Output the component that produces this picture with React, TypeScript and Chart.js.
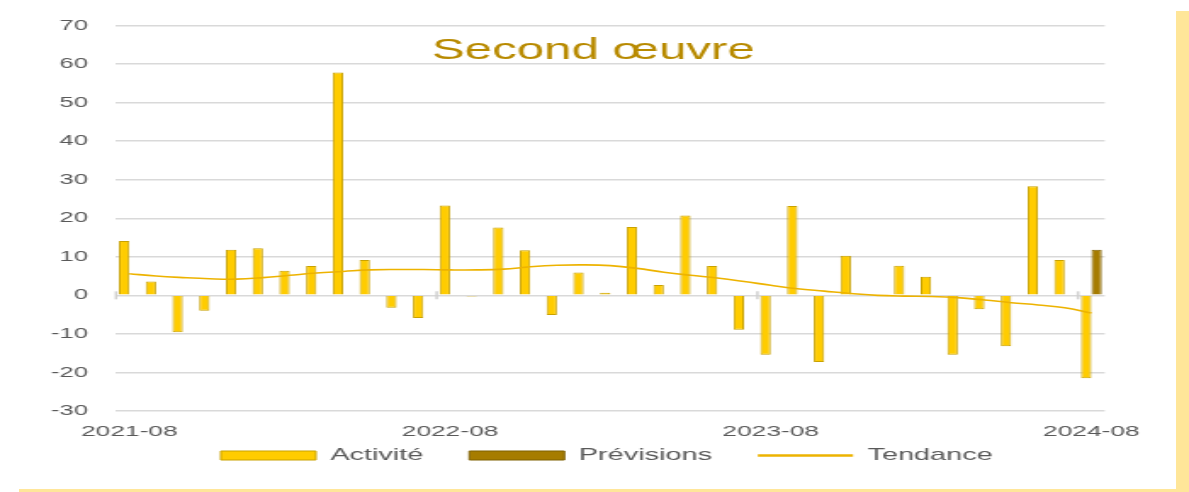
import React, { useEffect, useRef } from "react";
import { Chart, registerables } from "chart.js";

Chart.register(...registerables);

const TITLE = "Second œuvre";

const months = [
  "2021-08", "2021-09", "2021-10", "2021-11", "2021-12",
  "2022-01", "2022-02", "2022-03", "2022-04", "2022-05", "2022-06", "2022-07",
  "2022-08", "2022-09", "2022-10", "2022-11", "2022-12",
  "2023-01", "2023-02", "2023-03", "2023-04", "2023-05", "2023-06", "2023-07",
  "2023-08", "2023-09", "2023-10", "2023-11", "2023-12",
  "2024-01", "2024-02", "2024-03", "2024-04", "2024-05", "2024-06", "2024-07",
  "2024-08",
];

const shownTickLabels = ["2021-08", "2022-08", "2023-08", "2024-08"];

const activite = [
  14.1, 3.6, -9.6, -4.0, 11.8, 12.2, 6.4, 7.6, 57.8, 9.2,
  -3.2, -5.9, 23.3, -0.3, 17.6, 11.7, -5.1, 5.9, 0.7, 17.7,
  2.7, 20.7, 7.6, -8.9, -15.4, 23.2, -17.3, 10.3, 0.2, 7.7,
  4.8, -15.4, -3.6, -13.2, 28.3, 9.2, -21.5,
];

const previsions = [
  null, null, null, null, null, null, null, null, null, null,
  null, null, null, null, null, null, null, null, null, null,
  null, null, null, null, null, null, null, null, null, null,
  null, null, null, null, null, null, 11.8,
];

const tendance = [
  5.6, 5.0, 4.6, 4.3, 4.2, 4.6, 5.2, 5.8, 6.2, 6.6,
  6.7, 6.7, 6.6, 6.6, 6.8, 7.4, 7.8, 7.9, 7.7, 7.0,
  6.0, 5.2, 4.5, 3.6, 2.6, 1.7, 1.1, 0.5, 0.0, -0.2,
  -0.3, -0.6, -1.2, -1.9, -2.5, -3.2, -4.6,
];

const yTicks = { min: -30, max: 70, step: 10 };

const FONT = '"Liberation Sans", Arial, sans-serif';
const TEXT_COLOR = "#595959";

// internal canvas size, stretched horizontally by CSS to the page width
const CANVAS_W = 700;
const CANVAS_H = 492;
const PAGE_W = 1189;

export default function App() {
  const ref = useRef<HTMLCanvasElement>(null);

  useEffect(() => {
    const canvas = ref.current;
    if (!canvas) return;

    const titlePlugin = {
      id: "titleInside",
      afterDraw(chart: any) {
        const { ctx, chartArea } = chart;
        ctx.save();
        ctx.font = `29px ${FONT}`;
        ctx.fillStyle = "#B88A00";
        ctx.textAlign = "center";
        ctx.textBaseline = "alphabetic";
        ctx.fillText(TITLE, chartArea.left + 281, chartArea.top + 33);
        ctx.restore();
      },
    };

    const axisMarks = {
      id: "axisMarks",
      beforeDatasetsDraw(chart: any) {
        const { ctx } = chart;
        const xs = chart.scales.x;
        const ys = chart.scales.y;
        const y0 = ys.getPixelForValue(0);
        const step = (xs.right - xs.left) / months.length;
        ctx.save();
        ctx.strokeStyle = "#D0D0D0";
        ctx.lineWidth = 1.5;
        months.forEach((m, i) => {
          if (i % 12 !== 0) return;
          const px = xs.left + i * step;
          ctx.beginPath();
          ctx.moveTo(px, y0 - 4);
          ctx.lineTo(px, y0 + 4);
          ctx.stroke();
        });
        ctx.restore();
      },
    };

    const legendPlace = {
      id: "legendPlace",
      afterLayout(chart: any) {
        const lg = chart.legend;
        if (!lg) return;
        const h = lg.bottom - lg.top;
        lg.left += 32;
        lg.right += 32;
        lg.top = 420;
        lg.bottom = 420 + h;
      },
    };

    const chart = new Chart(canvas, {
      type: "bar",
      data: {
        labels: months,
        datasets: [
          {
            type: "bar",
            label: "Activité",
            data: activite,
            backgroundColor: "#FFCC00",
            borderColor: "#C9A200",
            borderWidth: 1,
            categoryPercentage: 0.78,
            barPercentage: 1.0,
            order: 1,
          },
          {
            type: "bar",
            label: "Prévisions",
            data: previsions as any,
            backgroundColor: "#A67C00",
            borderColor: "#7F6000",
            borderWidth: 1,
            categoryPercentage: 0.78,
            barPercentage: 1.0,
            order: 1,
          },
          {
            type: "line",
            label: "Tendance",
            data: tendance,
            borderColor: "#EDB300",
            backgroundColor: "#EDB300",
            borderWidth: 1.6,
            pointRadius: 0,
            tension: 0.4,
            order: 0,
          } as any,
        ],
      },
      options: {
        animation: false,
        responsive: false,
        devicePixelRatio: 1,
        layout: {
          padding: { top: 22, right: 49.6, bottom: 0, left: 0 },
        },
        plugins: {
          title: { display: false },
          tooltip: { enabled: false },
          legend: {
            position: "bottom",
            align: "center",
            labels: {
              font: { family: FONT, size: 17 },
              color: TEXT_COLOR,
              usePointStyle: true,
              pointStyleWidth: 56,
              boxWidth: 56,
              boxHeight: 9,
              padding: 27,
              sort: (a: any, b: any) => a.datasetIndex - b.datasetIndex,
              generateLabels: (ch: any) => {
                const items = Chart.defaults.plugins.legend.labels.generateLabels(ch);
                return items.map((it: any) => {
                  const ds = ch.data.datasets[it.datasetIndex];
                  if (ds.type === "line") {
                    return {
                      ...it,
                      pointStyle: "line",
                      strokeStyle: "#EDB300",
                      lineWidth: 2.5,
                    };
                  }
                  return {
                    ...it,
                    pointStyle: "rect",
                    fillStyle: ds.backgroundColor,
                    strokeStyle: ds.borderColor,
                    lineWidth: 1,
                  };
                });
              },
            },
          },
        },
        scales: {
          x: {
            offset: true,
            grid: { display: false, drawTicks: false },
            border: { display: false },
            afterFit: (scale: any) => {
              scale.height = 27;
            },
            ticks: {
              autoSkip: false,
              maxRotation: 0,
              minRotation: 0,
              padding: 11,
              color: TEXT_COLOR,
              font: { family: FONT, size: 15.5 },
              callback: (_v: any, idx: number) =>
                shownTickLabels.includes(months[idx]) ? months[idx] : "",
            },
          },
          y: {
            min: yTicks.min,
            max: yTicks.max,
            grid: { color: "#D9D9D9", lineWidth: 1.5, drawTicks: false },
            border: { display: false },
            afterFit: (scale: any) => {
              scale.width = 68.3;
            },
            ticks: {
              stepSize: yTicks.step,
              padding: 16.5,
              color: TEXT_COLOR,
              font: { family: FONT, size: 15 },
            },
          },
        },
      },
      plugins: [axisMarks, titlePlugin, legendPlace],
    });

    return () => chart.destroy();
  }, []);

  return (
    <div
      style={{
        position: "fixed",
        left: 0,
        top: 0,
        width: PAGE_W,
        height: CANVAS_H,
        background: "#FFFFFF",
        overflow: "hidden",
      }}
    >
      <canvas
        ref={ref}
        width={CANVAS_W}
        height={CANVAS_H}
        style={{ width: PAGE_W + "px", height: CANVAS_H + "px", display: "block" }}
      />
      <div
        style={{
          position: "absolute",
          left: 1176,
          top: 11,
          width: 13,
          height: CANVAS_H - 11,
          background: "#FFE699",
        }}
      />
      <div
        style={{
          position: "absolute",
          left: 19,
          top: 489,
          width: 1176 - 19,
          height: 3,
          background: "#FFE699",
        }}
      />
    </div>
  );
}
